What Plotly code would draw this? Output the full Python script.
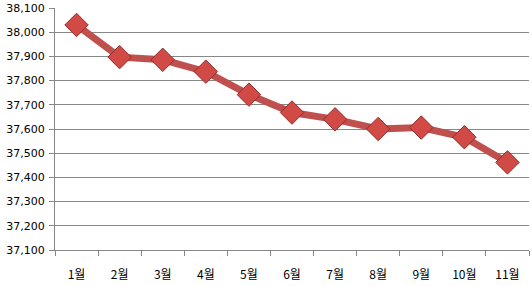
import plotly.graph_objects as go

months = ["1월", "2월", "3월", "4월", "5월", "6월", "7월", "8월", "9월", "10월", "11월"]
values = [38030, 37897, 37886, 37837, 37742, 37668, 37640, 37600, 37606, 37566, 37462]
y_ticks = list(range(37100, 38101, 100))

fig = go.Figure()
fig.add_trace(go.Scatter(
    x=months, y=values, mode="lines+markers",
    line=dict(color="#C0504D", width=7),
    marker=dict(symbol="diamond", size=18, color="#D24A46",
                line=dict(color="#8E2E2B", width=1)),
    showlegend=False,
))

fig.update_layout(
    width=532, height=286,
    margin=dict(l=55, r=3, t=8, b=36),
    paper_bgcolor="white", plot_bgcolor="white",
    font=dict(family="DejaVu Sans, Noto Sans CJK KR", size=11, color="#000"),
)
fig.update_xaxes(
    type="category", range=[-0.5, 10.5],
    showline=True, linecolor="#878787", linewidth=1,
    ticks="outside", ticklen=5, tickcolor="#878787", tickson="boundaries",
    showgrid=False, ticklabelstandoff=14,
    tickfont=dict(family="Noto Sans CJK KR, DejaVu Sans", size=12),
)
fig.update_yaxes(
    range=[37100, 38100], tickvals=y_ticks, tickformat=",",
    showline=True, linecolor="#878787", linewidth=1,
    ticks="outside", ticklen=5, tickcolor="#878787",
    showgrid=True, gridcolor="#878787", gridwidth=1,
    zeroline=False, ticklabelstandoff=2,
)

fig.write_html("out.html")
